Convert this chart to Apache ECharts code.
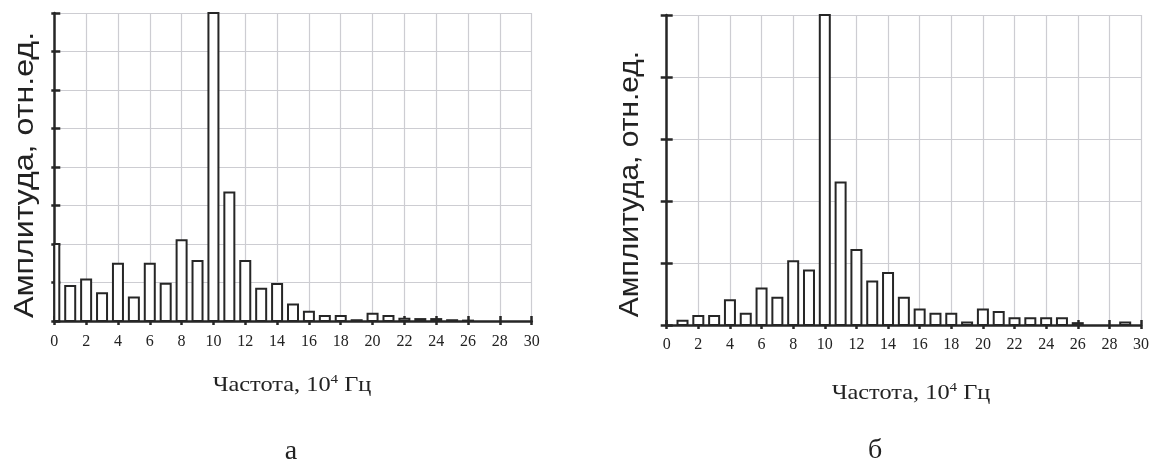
<!DOCTYPE html>
<html>
<head>
<meta charset="utf-8">
<script src="https://cdn.jsdelivr.net/npm/echarts@6/dist/echarts.min.js"></script>
<style>
html,body{margin:0;padding:0;background:#fff;}
#c{width:1158px;height:461px;}
</style>
</head>
<body>
<div id="c"></div>
<script>
// Frequency bins (10^4 Hz)
const freq = [0,1,2,3,4,5,6,7,8,9,10,11,12,13,14,15,16,17,18,19,20,21,22,23,24,25,26,27,28,29,30];
// Amplitudes (relative units), panel "а" (axis 0..8)
const ampA = [2.0,0.91,1.08,0.72,1.49,0.61,1.49,0.97,2.10,1.56,8.0,3.34,1.56,0.84,0.96,0.43,0.24,0.13,0.13,0.02,0.19,0.13,0.06,0.05,0.05,0.02,0.01,0,0,0,0];
// Amplitudes (relative units), panel "б" (axis 0..5)
const ampB = [0,0.07,0.145,0.145,0.40,0.18,0.59,0.44,1.03,0.88,5.0,2.30,1.21,0.70,0.84,0.44,0.25,0.18,0.18,0.04,0.25,0.21,0.11,0.11,0.11,0.11,0.03,0,0,0.04,0];
const xTicks = [0,2,4,6,8,10,12,14,16,18,20,22,24,26,28,30];
const yTitle = 'Амплитуда, отн.ед.';
const xTitle = ['Частота, 10','4',' Гц'];
const captions = ['а','б'];

const AX = '#262626';
const GRID = '#cdcdd2';
const serif = '"Liberation Serif","DejaVu Serif",serif';
const sans = '"Liberation Sans",Arial,sans-serif';

const chart = echarts.init(document.getElementById('c'), null, {renderer:'canvas'});

function xAxes(gi, margin){
  const base = {
    type:'value', gridIndex:gi, min:xTicks[0], max:xTicks[xTicks.length-1], interval:xTicks[1]-xTicks[0],
    position:'bottom'
  };
  return [
    Object.assign({}, base, {
      axisLine:{show:true, onZero:false, lineStyle:{color:AX, width:2.5}},
      axisTick:{show:true, inside:false, length:4, lineStyle:{color:AX, width:2.5}},
      axisLabel:{show:true, margin:margin, color:'#222', fontFamily:serif, fontSize:16},
      splitLine:{show:true, lineStyle:{color:GRID, width:1.2}}
    }),
    Object.assign({}, base, {
      axisLine:{show:false},
      axisTick:{show:true, inside:true, length:5, lineStyle:{color:AX, width:2.5}},
      axisLabel:{show:false},
      splitLine:{show:false}
    })
  ];
}
function yAxes(gi, max, outLen, inLen){
  const base = {type:'value', gridIndex:gi, min:0, max:max, interval:1, position:'left'};
  return [
    Object.assign({}, base, {
      axisLine:{show:true, onZero:false, lineStyle:{color:AX, width:2.5}},
      axisTick:{show:true, inside:false, length:outLen, lineStyle:{color:AX, width:2.5}},
      axisLabel:{show:false},
      splitLine:{show:true, lineStyle:{color:GRID, width:1.2}}
    }),
    Object.assign({}, base, {
      axisLine:{show:false},
      axisTick:{show:true, inside:true, length:inLen, lineStyle:{color:AX, width:2.5}},
      axisLabel:{show:false},
      splitLine:{show:false}
    })
  ];
}
function barSeries(xi, yi, vals){
  return {
    type:'custom', xAxisIndex:xi, yAxisIndex:yi,
    data: freq.map((f,i)=>[f, vals[i]]),
    clip:false, z:3, silent:true, animation:false,
    renderItem:function(params, api){
      const x = api.value(0), y = api.value(1);
      if (!y) return null;
      const p0 = api.coord([x, 0]);
      const p1 = api.coord([x, y]);
      const hw = 5;
      const cs = params.coordSys;
      const shape = echarts.graphic.clipRectByRect(
        {x:p0[0]-hw, y:p1[1], width:2*hw, height:p0[1]-p1[1]},
        {x:cs.x, y:cs.y, width:cs.width, height:cs.height}
      );
      if (!shape) return null;
      return {type:'rect', shape:shape, style:{fill:'#ffffff', stroke:AX, lineWidth:2}};
    }
  };
}
function xTitleText(cx, cy, sx){
  return {
    type:'text', x:cx, y:cy, scaleX:sx,
    style:{
      text:'{a|'+xTitle[0]+'}{s|'+xTitle[1]+'}{a|'+xTitle[2]+'}',
      align:'center', verticalAlign:'middle', textAlign:'center', textVerticalAlign:'middle',
      rich:{
        a:{fontFamily:serif, fontSize:21, fill:'#222', lineHeight:24},
        s:{fontFamily:serif, fontSize:13, fill:'#222', lineHeight:15, verticalAlign:'top'}
      }
    }
  };
}
function textEl(str, cx, cy, font, rot, sx){
  return {
    type:'text', x:cx, y:cy, rotation:rot||0, scaleX:sx||1,
    style:{text:str, font:font, fill:'#222', align:'center', verticalAlign:'middle', textAlign:'center', textVerticalAlign:'middle'}
  };
}

const xa = xAxes(0, 13).concat(xAxes(1, 12));
const ya = yAxes(0, 8, 3, 6).concat(yAxes(1, 5, 6, 6));

chart.setOption({
  animation:false,
  backgroundColor:'#ffffff',
  grid:[
    {left:54.3, top:13, width:477.4, height:308, containLabel:false},
    {left:666.7, top:15, width:474.3, height:310, containLabel:false}
  ],
  xAxis: xa,
  yAxis: ya,
  series:[ barSeries(0,0,ampA), barSeries(2,2,ampB) ],
  graphic:[
    textEl(yTitle, 25, 175, '28px '+sans, Math.PI/2, 1.15),
    textEl(yTitle, 630, 184, '28px '+sans, Math.PI/2, 1.07),
    xTitleText(292, 385, 1.16),
    xTitleText(911, 393, 1.16),
    textEl(captions[0], 291, 452, '28px '+serif, 0),
    textEl(captions[1], 875, 451, '28px '+serif, 0)
  ]
});
</script>
</body>
</html>
